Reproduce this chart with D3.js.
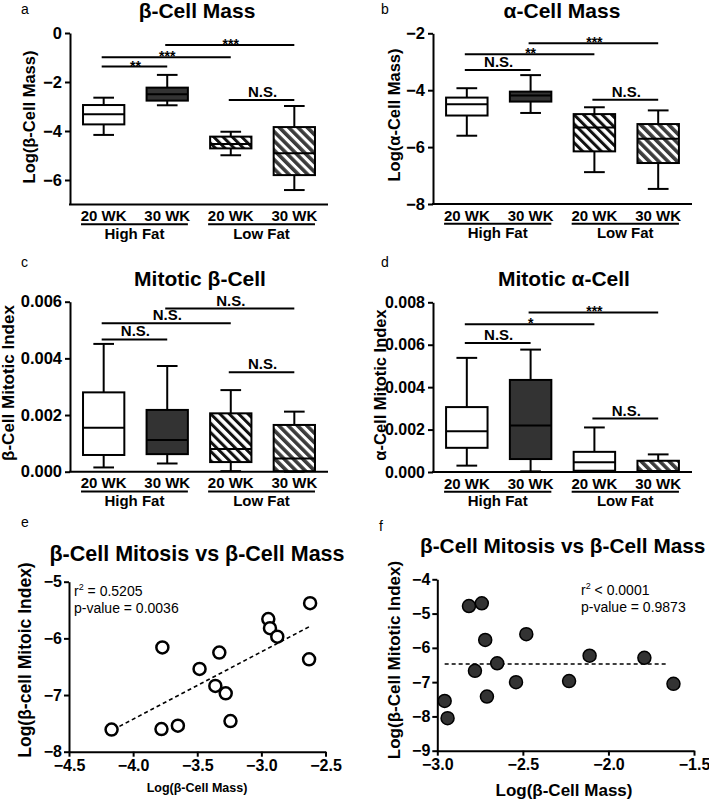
<!DOCTYPE html>
<html><head><meta charset="utf-8">
<script src="https://cdn.jsdelivr.net/npm/d3@7"></script>
<style>body{margin:0;background:#fff} svg{display:block} text{font-family:"Liberation Sans",Arial,Helvetica,sans-serif}</style>
</head><body><svg id="c" width="709" height="800"></svg>
<script>
// ---------- data ----------
const categories = ["20 WK", "30 WK", "20 WK", "30 WK"];
const groups = ["High Fat", "Low Fat"];
// box stats: [whisker low, q1, median, q3, whisker high]
const betaMass = [[-4.16,-3.73,-3.32,-2.94,-2.64],[-2.95,-2.76,-2.50,-2.23,-1.71],[-4.99,-4.71,-4.53,-4.23,-4.03],[-6.41,-5.80,-4.91,-3.84,-2.98]];
const alphaMass = [[-5.60,-4.89,-4.49,-4.26,-3.93],[-4.80,-4.40,-4.19,-4.05,-3.47],[-6.88,-6.15,-5.31,-4.84,-4.60],[-7.47,-6.56,-5.71,-5.19,-4.71]];
const betaMitotic = [[0.00015,0.00059,0.00155,0.00280,0.00451],[0.00029,0.00062,0.00112,0.00218,0.00373],[0.00002,0.00034,0.00080,0.00206,0.00288],[0.00000,0.00002,0.00047,0.00165,0.00212]];
const alphaMitotic = [[0.00030,0.00114,0.00192,0.00306,0.00538],[0.00003,0.00061,0.00219,0.00434,0.00577],[0.00003,0.00006,0.00046,0.00095,0.00210],[0.00000,0.00003,0.00005,0.00053,0.00083]];
// significance bars: [from, to, level, label]
const betaMassSig = [[0,1,-1.37,"**"],[0,2,-0.99,"***"],[1,3,-0.49,"***"],[2,3,-2.73,"N.S."]];
const alphaMassSig = [[0,1,-3.29,"N.S."],[0,2,-2.74,"**"],[1,3,-2.35,"***"],[2,3,-4.34,"N.S."]];
const betaMitSig = [[0,1,0.00467,"N.S."],[0,2,0.00524,"N.S."],[1,3,0.00576,"N.S."],[2,3,0.00351,"N.S."]];
const alphaMitSig = [[0,1,0.00608,"N.S."],[0,2,0.00697,"*"],[1,3,0.00752,"***"],[2,3,0.00252,"N.S."]];
// axis ticks
const massTicksA = [0,-2,-4,-6];
const massTicksB = [-2,-4,-6,-8];
const mitTicksC = [0,0.002,0.004,0.006];
const mitTicksD = [0,0.002,0.004,0.006,0.008];
// scatter e
const massE = [-4.168,-3.772,-3.779,-3.651,-3.482,-3.359,-3.328,-3.278,-3.241,-2.946,-2.933,-2.876,-2.620,-2.628];
const mitE  = [-7.61,-6.16,-7.60,-7.54,-6.54,-6.84,-6.25,-6.97,-7.46,-5.66,-5.82,-5.97,-5.38,-6.37];
const fitE = [[-4.155,-7.61],[-2.615,-5.78]];
const statsE = ["0.5205","0.0036"];
const xTicksE = [-4.5,-4.0,-3.5,-3.0,-2.5], yTicksE = [-5,-6,-7,-8];
// scatter f
const massF = [-2.957,-2.940,-2.815,-2.740,-2.780,-2.720,-2.710,-2.650,-2.540,-2.480,-2.230,-2.110,-1.790,-1.620];
const mitF  = [-7.55,-8.05,-4.78,-4.70,-6.67,-5.77,-7.42,-6.45,-7.00,-5.60,-6.97,-6.23,-6.29,-7.05];
const fitF = [[-2.957,-6.47],[-1.65,-6.47]];
const statsF = ["< 0.0001","0.9873"];
const xTicksF = [-3.0,-2.5,-2.0,-1.5], yTicksF = [-4,-5,-6,-7,-8,-9];

// ---------- drawing ----------
const svg = d3.select("#c");
const defs = svg.append("defs");
function hatch(id, color, w){
  const p = defs.append("pattern").attr("id",id).attr("patternUnits","userSpaceOnUse")
    .attr("width",6.6).attr("height",6.6).attr("patternTransform","rotate(-45)");
  p.append("rect").attr("width",6.6).attr("height",6.6).attr("fill","#fff");
  p.append("rect").attr("width",w).attr("height",6.6).attr("fill",color);
}
hatch("hatchA","#111",3.0);
hatch("hatchB","#3c3c3c",3.6);

const FONT = '"Liberation Sans",Arial,sans-serif';
function txt(x,y,s,size,weight,anchor){
  return svg.append("text").attr("x",x).attr("y",y).text(s)
    .attr("font-size",size).attr("font-weight",weight||"normal")
    .attr("text-anchor",anchor||"start").attr("fill","#000");
}
function ylabel(x,y,s,size){
  svg.append("text").attr("transform",`translate(${x},${y}) rotate(-90)`)
    .attr("text-anchor","middle").attr("font-size",size).attr("font-weight","bold").text(s);
}
function styleAxis(g,size){
  g.selectAll("path,line").attr("stroke","#000").attr("stroke-width",2);
  g.selectAll("text").attr("font-size",size).attr("font-weight","bold").attr("font-family",FONT).attr("fill","#000");
}

function boxPanel(c){
  const x = d3.scalePoint().domain(d3.range(categories.length)).range([c.x0,c.x1]).padding(0.53);
  const y = d3.scaleLinear().domain(c.domain).range([c.yBot,c.yTop]);
  const bw = x.step()*0.65;
  const ax = svg.append("g").attr("transform",`translate(${c.x0},0)`)
    .call(d3.axisLeft(y).tickValues(c.ticks).tickFormat(c.fmt).tickSize(5).tickSizeOuter(0).tickPadding(3));
  styleAxis(ax,c.tickSize);
  svg.append("line").attr("x1",c.x0-1).attr("x2",c.x1).attr("y1",c.yBot).attr("y2",c.yBot)
    .attr("stroke","#000").attr("stroke-width",2);
  c.stats.forEach((s,i)=>{
    const cx = x(i);
    const g = svg.append("g");
    g.append("line").attr("x1",cx).attr("x2",cx).attr("y1",y(s[4])).attr("y2",y(s[0])).attr("stroke","#000").attr("stroke-width",2);
    [s[0],s[4]].forEach(v=>g.append("line").attr("x1",cx-bw/4).attr("x2",cx+bw/4).attr("y1",y(v)).attr("y2",y(v)).attr("stroke","#000").attr("stroke-width",2));
    g.append("rect").attr("x",cx-bw/2).attr("width",bw).attr("y",y(s[3])).attr("height",Math.max(1,y(s[1])-y(s[3])))
      .attr("fill",c.fills[i]).attr("stroke","#000").attr("stroke-width",2);
    g.append("line").attr("x1",cx-bw/2).attr("x2",cx+bw/2).attr("y1",y(s[2])).attr("y2",y(s[2])).attr("stroke","#000").attr("stroke-width",2);
  });
  c.sig.forEach(([a,b,v,lab])=>{
    const yy = y(v);
    svg.append("line").attr("x1",x(a)-2).attr("x2",x(b)).attr("y1",yy).attr("y2",yy).attr("stroke","#000").attr("stroke-width",2);
    const star = lab.indexOf("*")>=0;
    txt((x(a)+x(b))/2, star? yy+4 : yy-3, lab, star?14:15, "bold","middle");
  });
  categories.forEach((s,i)=>txt(x(i),c.yBot+16.5,s,15,"bold","middle"));
  groups.forEach((gname,gi)=>{
    const l = x(gi*2)-bw/2-2, r = x(gi*2+1)+bw/2;
    svg.append("line").attr("x1",l).attr("x2",r).attr("y1",c.yBot+19.8).attr("y2",c.yBot+19.8).attr("stroke","#000").attr("stroke-width",2);
    txt((l+r)/2,c.yBot+34,gname,15,"bold","middle");
  });
}

const fmtMass = d3.format("d");
const fmtMit = d3.format(".3f");
boxPanel({x0:70,x1:328,yTop:33,yBot:204.5,domain:[-7,0],ticks:massTicksA,fmt:fmtMass,tickSize:16.5,stats:betaMass,sig:betaMassSig,
  fills:["#fff","#333","url(#hatchA)","url(#hatchB)"]});
boxPanel({x0:433,x1:692,yTop:33.3,yBot:204,domain:[-8,-2],ticks:massTicksB,fmt:fmtMass,tickSize:16.5,stats:alphaMass,sig:alphaMassSig,
  fills:["#fff","#333","url(#hatchA)","url(#hatchB)"]});
boxPanel({x0:70,x1:328,yTop:301.7,yBot:471.7,domain:[0,0.006],ticks:mitTicksC,fmt:fmtMit,tickSize:16.5,stats:betaMitotic,sig:betaMitSig,
  fills:["#fff","#333","url(#hatchA)","url(#hatchB)"]});
boxPanel({x0:433,x1:692,yTop:302.3,yBot:472,domain:[0,0.008],ticks:mitTicksD,fmt:fmtMit,tickSize:16,stats:alphaMitotic,sig:alphaMitSig,
  fills:["#fff","#333","#fff","url(#hatchB)"]});

function scatterPanel(c){
  const x = d3.scaleLinear().domain(c.xd).range([c.x0,c.x1]);
  const y = d3.scaleLinear().domain(c.yd).range([c.yBot,c.yTop]);
  const ay = svg.append("g").attr("transform",`translate(${c.x0},0)`)
    .call(d3.axisLeft(y).tickValues(c.yt).tickFormat(d3.format("d")).tickSize(5).tickSizeOuter(0).tickPadding(2));
  styleAxis(ay,16);
  const axx = svg.append("g").attr("transform",`translate(0,${c.yBot})`)
    .call(d3.axisBottom(x).tickValues(c.xt).tickFormat(d3.format(".1f")).tickSize(5).tickSizeOuter(0).tickPadding(3));
  styleAxis(axx,16);
  svg.append("line").attr("x1",x(c.fit[0][0])).attr("y1",y(c.fit[0][1])).attr("x2",x(c.fit[1][0])).attr("y2",y(c.fit[1][1]))
    .attr("stroke","#000").attr("stroke-width",1.6).attr("stroke-dasharray","4,3");
  c.xs.forEach((v,i)=>{
    svg.append("circle").attr("cx",x(v)).attr("cy",y(c.ys[i])).attr("r",c.r)
      .attr("fill",c.fill).attr("stroke","#000").attr("stroke-width",c.sw);
  });
  const t = svg.append("text").attr("x",c.sx).attr("y",c.sy).attr("font-size",14);
  t.append("tspan").text("r");
  t.append("tspan").text("2").attr("font-size",9).attr("dy",-6);
  t.append("tspan").text((c.stats[0][0]==="<"?" ":" = ")+c.stats[0]).attr("dy",6);
  txt(c.sx,c.sy+16.5,"p-value = "+c.stats[1],14,"normal","start");
}
scatterPanel({x0:69,x1:325.5,yTop:581.7,yBot:751.7,xd:[-4.5,-2.5],yd:[-8,-5],xt:xTicksE,yt:yTicksE,xs:massE,ys:mitE,fit:fitE,
  r:6,fill:"#fff",sw:2.5,stats:statsE,sx:74,sy:596});
scatterPanel({x0:437.3,x1:694,yTop:579.3,yBot:750.7,xd:[-3,-1.5],yd:[-9,-4],xt:xTicksF,yt:yTicksF,xs:massF,ys:mitF,fit:fitF,
  r:6.5,fill:"#333",sw:1.5,stats:statsF,sx:581,sy:595});

// titles
txt(197,18,"β-Cell Mass",21,"bold","middle");
txt(562,18,"α-Cell Mass",21,"bold","middle");
txt(200,286,"Mitotic β-Cell",21,"bold","middle");
txt(564,286,"Mitotic α-Cell",21,"bold","middle");
txt(197,561,"β-Cell Mitosis vs β-Cell Mass",21.5,"bold","middle");
txt(420,553,"β-Cell Mitosis vs β-Cell Mass",20.8,"bold","start");
// panel letters
txt(21,14,"a",14); txt(381,14,"b",14);
txt(21,267,"c",14); txt(381,267,"d",14);
txt(21,527,"e",14); txt(379,531,"f",14);
// axis labels
ylabel(35,117,"Log(β-Cell Mass)",16.5);
ylabel(400,115,"Log(α-Cell Mass)",16.5);
ylabel(14,383,"β-Cell Mitotic Index",17);
ylabel(386,385,"α-Cell Mitotic Index",16.5);
ylabel(31,660,"Log(β-cell Mitoic Index)",17.5);
ylabel(400,660,"Log(β-Cell Mitotic Index)",17);
txt(197,792,"Log(β-Cell Mass)",12.5,"bold","middle");
txt(564,796,"Log(β-Cell Mass)",17,"bold","middle");
</script></body></html>
